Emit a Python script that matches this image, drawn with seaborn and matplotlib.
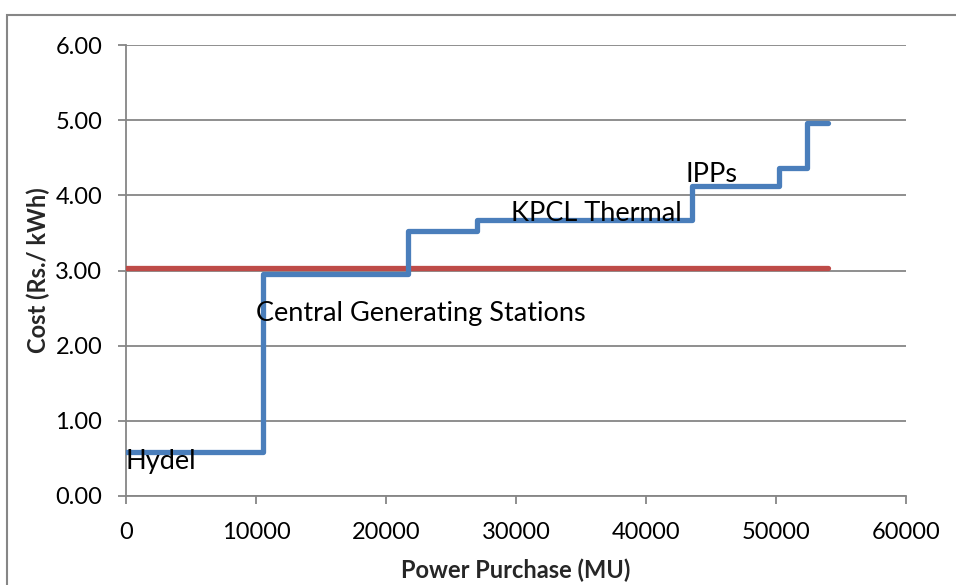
import matplotlib
matplotlib.use("Agg")
import matplotlib.pyplot as plt
from matplotlib.patches import Rectangle
import seaborn as sns
import pandas as pd

# Merit-order purchase cost: cumulative energy (MU) at the start of each block and its cost
purchase_mu = [0, 10500, 21700, 27000, 43500, 50200, 52400, 54000]
cost_rs = [0.59, 2.95, 3.52, 3.67, 4.13, 4.36, 4.96, 4.96]

# Average cost reference line
avg_mu = [0, 54000]
avg_cost = [3.03, 3.03]

source_labels = ["Hydel", "Central Generating Stations", "KPCL Thermal", "IPPs"]
label_x = [0, 10000, 29600, 43000]
label_y = [0.46, 2.43, 3.76, 4.28]

x_ticks = [0, 10000, 20000, 30000, 40000, 50000, 60000]
y_ticks = [0, 1, 2, 3, 4, 5, 6]

sns.set_style("white")
plt.rcParams["font.family"] = ["Lato", "DejaVu Sans"]

fig = plt.figure(figsize=(9.56, 5.85), dpi=100)
ax = fig.add_axes([126 / 956, 1 - 496 / 585, 780 / 956, 451 / 585])

steps = pd.DataFrame({"mu": purchase_mu, "cost": cost_rs})
avg = pd.DataFrame({"mu": avg_mu, "cost": avg_cost})

sns.lineplot(data=avg, x="mu", y="cost", ax=ax, color="#BE4B48", lw=3.8,
             solid_capstyle="round", zorder=3)
sns.lineplot(data=steps, x="mu", y="cost", ax=ax, color="#4A7EBB", lw=3.8,
             drawstyle="steps-post", solid_capstyle="round",
             solid_joinstyle="round", zorder=4)

for txt, lx, ly in zip(source_labels, label_x, label_y):
    ax.text(lx, ly, txt, fontsize=19.5, color="black", ha="left", va="center", zorder=5)

ax.set_xlim(0, 60000)
ax.set_ylim(0, 6)
ax.set_xticks(x_ticks)
ax.set_xticklabels([str(v) for v in x_ticks])
ax.set_yticks(y_ticks)
ax.set_yticklabels([f"{v:.2f}" for v in y_ticks])

ax.grid(axis="y", color="#868686", lw=1.3)
ax.grid(axis="x", visible=False)
ax.set_axisbelow(True)
for side in ["top", "right"]:
    ax.spines[side].set_visible(False)
for side in ["left", "bottom"]:
    ax.spines[side].set_color("#868686")
    ax.spines[side].set_linewidth(1.3)

ax.tick_params(axis="both", which="major", direction="out", length=6, width=1.3,
               color="#868686", labelsize=17, labelcolor="black")
ax.tick_params(axis="x", bottom=True, pad=13)
ax.tick_params(axis="y", left=True, pad=11)

ax.set_xlabel("Power Purchase (MU)", fontsize=17, fontweight="bold", labelpad=11)
ax.set_ylabel("Cost (Rs./ kWh)", fontsize=17, fontweight="bold", labelpad=4)

# Chart-area frame
fig.patches.append(Rectangle((7 / 956, -0.05), 1.1, 1 - 15 / 585 + 0.05,
                             transform=fig.transFigure, fill=False,
                             edgecolor="#868686", lw=1.5, zorder=0))

fig.savefig("out.png", dpi=100)
